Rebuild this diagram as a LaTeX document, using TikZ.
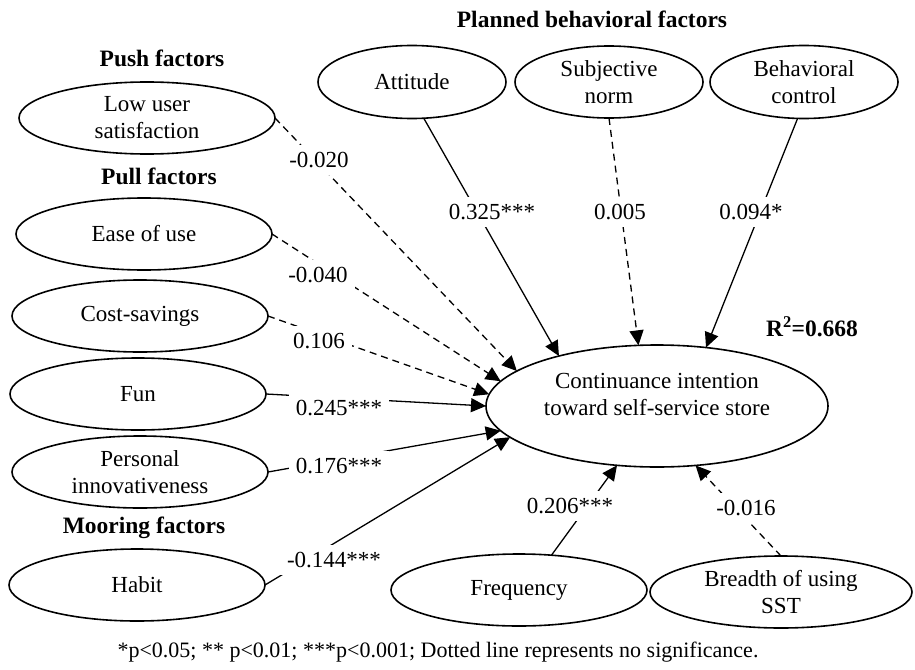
\documentclass[tikz,border=0pt]{standalone}
\usepackage{fontspec}
\setmainfont{Liberation Serif}
\usetikzlibrary{shapes.geometric,arrows.meta}
\begin{document}
\begin{tikzpicture}[x=1pt,y=-1pt,
  every node/.style={font=\fontsize{23}{27}\selectfont},
  factor/.style={ellipse,draw,line width=1.6pt,inner sep=0pt,outer sep=0pt,
    minimum width=256pt,minimum height=72pt,align=center},
  grp/.style={font=\fontsize{23.5}{27}\selectfont\bfseries},
  coef/.style={fill=white,inner sep=7pt},
  sig/.style={line width=1.3pt,-{Triangle[length=15pt,width=14pt]}},
  ns/.style={sig,dash pattern=on 7pt off 5pt}]
\useasboundingbox (0,0) rectangle (915,669);

% group titles
\node[grp] (tpbt) at (592,19) {Planned behavioral factors};
\node[grp] (pusht) at (162,58) {Push factors};
\node[grp] (pullt) at (159,176) {Pull factors};
\node[grp] (moort) at (144,528) {Mooring factors};

% factors
\node[factor] (low) at (147,118) {Low user\\satisfaction};
\node[factor] (ease) at (144,234) {Ease of use};
\node[factor] (cost) at (140,316) {Cost-savings};
\node[factor] (fun) at (138,394) {Fun};
\node[factor] (pers) at (140,472) {Personal\\innovativeness};
\node[factor] (habit) at (137,585) {Habit};
\node[factor,minimum width=188pt,minimum height=73pt] (att) at (412,82) {Attitude};
\node[factor,minimum width=188pt] (subj) at (609,82) {Subjective\\norm};
\node[factor,minimum width=188pt,minimum height=73pt] (beh) at (804,82) {Behavioral\\control};
\node[factor] (freq) at (519,590) {Frequency};
\node[factor,minimum width=262pt] (bre) at (781,592) {Breadth of using\\SST};
\node[factor,minimum width=342pt,minimum height=122pt] (cont) at (657,406) {};
\node[align=center] (conttext) at (657,394) {Continuance intention\\toward self-service store};
\node[grp] (r2) at (812,327) {R\textsuperscript{2}=0.668};

% paths
\draw[ns] (low.east) -- (cont.166);
\draw[ns] (ease.east) -- (cont.171);
\draw[ns] (cost.east) -- (cont.176);
\draw[sig] (fun.east) -- (cont.180);
\draw[sig] (pers.east) -- (cont.189);
\draw[sig] (habit.east) -- (cont.192);
\draw[sig] (att.-72) -- (cont.153);
\draw[ns] (subj.south) -- (cont.107);
\draw[sig] (beh.-100) -- (cont.50);
\draw[sig] (freq.47) -- (cont.236);
\draw[ns] (bre.north) -- (cont.303);

% coefficients
\node[coef] (c1) at (319,160) {-0.020};
\node[coef] (c2) at (318,275) {-0.040};
\node[coef] (c3) at (319,341) {0.106};
\node[coef] (c4) at (339,408) {0.245***};
\node[coef] (c5) at (339,466) {0.176***};
\node[coef] (c6) at (334,560) {-0.144***};
\node[coef] (c7) at (492,212) {0.325***};
\node[coef] (c8) at (620,212) {0.005};
\node[coef] (c9) at (751,212) {0.094*};
\node[coef] (c10) at (570,506) {0.206***};
\node[coef] (c11) at (746,508) {-0.016};

% footnote
\node[font=\fontsize{22}{26}\selectfont] (note) at (438,652) {*p<0.05; ** p<0.01; ***p<0.001; Dotted line represents no significance.};
\end{tikzpicture}
\end{document}
